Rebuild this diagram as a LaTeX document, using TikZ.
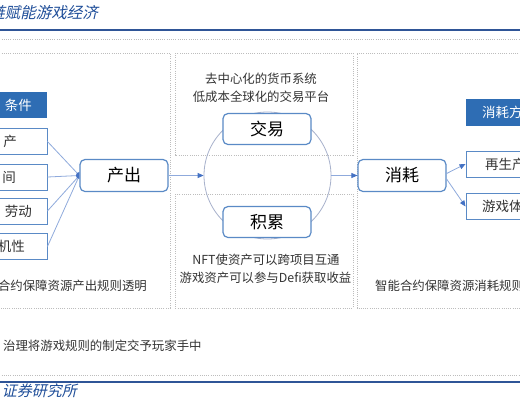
\documentclass[tikz,border=0pt]{standalone}
\usepackage{fontspec}
\setmainfont{Noto Sans CJK SC}
\newfontfamily\cjkit[FakeSlant=0.22]{Noto Sans CJK SC}
\usetikzlibrary{arrows.meta}
\definecolor{dotgray}{HTML}{BDBDBD}
\definecolor{boxblue}{HTML}{5A8AC6}
\definecolor{hdblue}{HTML}{2E6DB4}
\definecolor{lineblue}{HTML}{8FAADC}
\definecolor{arrowblue}{HTML}{4472C4}
\definecolor{circcol}{HTML}{A8B2CC}
\definecolor{ruleblue}{HTML}{2F5597}
\definecolor{titleblue}{HTML}{1F4E99}
\definecolor{txtgray}{HTML}{333333}
\tikzset{
  dotln/.style={draw=dotgray, line width=0.6pt, dash pattern=on 1pt off 1.2pt},
  rulel/.style={draw=ruleblue, line width=2pt},
  sqbox/.style={draw=boxblue, line width=0.9pt, fill=white, inner sep=0pt, minimum width=100pt, minimum height=26pt},
  hdbox/.style={fill=hdblue, inner sep=0pt, minimum height=26pt},
  rbox/.style={draw=boxblue, line width=1.2pt, rounded corners=5pt, fill=white, inner sep=0pt, minimum width=88pt, minimum height=32pt, font=\fontsize{17pt}{20pt}\selectfont, text=black},
  conn/.style={draw=lineblue, line width=0.8pt},
  arr/.style={conn, -{Triangle[length=6pt,width=5pt,color=arrowblue]}},
  smalltxt/.style={font=\fontsize{12.4pt}{14pt}\selectfont, text=txtgray, inner sep=0pt},
  boxtxt/.style={font=\fontsize{13.5pt}{15pt}\selectfont, text=txtgray, inner sep=0pt},
  hdtxt/.style={font=\fontsize{13.5pt}{15pt}\selectfont, text=white, inner sep=0pt},
}
\begin{document}
\begin{tikzpicture}[x=1pt,y=-1pt]
\useasboundingbox (0,0) rectangle (520,400);
\clip (0,0) rectangle (520,400);
\fill[white] (0,0) rectangle (520,400);
% title and rules
\node[anchor=east, inner sep=0pt, text=titleblue, font=\cjkit\fontsize{15.5pt}{17pt}\selectfont] (ttl) at (98,13) {链赋能游戏经济};
\draw[rulel] (-5,30) -- (525,30);
\draw[rulel] (-5,382) -- (525,382);
\node[anchor=east, inner sep=0pt, text=titleblue, font=\cjkit\fontsize{15pt}{17pt}\selectfont] (src) at (77,391) {证券研究所};
% dotted frames
\draw[dotln] (-5,39) -- (525,39);
\draw[dotln] (-5,375) -- (525,375);
\draw[dotln] (-5,53) -- (170,53) -- (170,308) -- (-5,308);
\draw[dotln] (175,53) rectangle (353,155);
\draw[dotln] (175,194) rectangle (353,308);
\draw[dotln] (525,53) -- (357,53) -- (357,308) -- (525,308);
% left panel
\node[hdbox, minimum width=100pt] (lh) at (-3,105) {};
\node[hdtxt, anchor=east] (lht) at (32,105) {条件};
\node[sqbox] (b1) at (-3,141.5) {};
\node[sqbox] (b2) at (-3,177) {};
\node[sqbox] (b3) at (-3,211) {};
\node[sqbox] (b4) at (-3,246.5) {};
\node[boxtxt, anchor=east] (t1) at (17,141.5) {产};
\node[boxtxt, anchor=east] (t2) at (16,177) {间};
\node[boxtxt, anchor=east] (t3) at (32,211) {劳动};
\node[boxtxt, anchor=east] (t4) at (25,246.5) {机性};
\node[rbox] (cc) at (124,175.5) {产出};
\foreach \b in {b1,b2,b3,b4} \draw[conn] (\b.east) -- (cc.west);
\fill[arrowblue] (cc.west) ++(0pt,3.5pt) arc[start angle=90, end angle=270, radius=3.5pt] -- cycle;
\node[smalltxt, anchor=east] (lnote) at (147,286) {合约保障资源产出规则透明};
% middle
\node[circle, draw=circcol, line width=0.8pt, minimum size=127pt, inner sep=0pt] (cir) at (267.5,175.5) {};
\node[rbox, minimum height=31pt] (jy) at (267,129) {交易};
\node[rbox, minimum height=31pt] (jl) at (267,222) {积累};
\node[smalltxt] (m1) at (261,79) {去中心化的货币系统};
\node[smalltxt] (m2) at (261,97) {低成本全球化的交易平台};
\node[smalltxt] (m3) at (266,260) {NFT使资产可以跨项目互通};
\node[smalltxt] (m4) at (265.5,278) {游戏资产可以参与Defi获取收益};
% right
\node[rbox] (xh) at (402,175.5) {消耗};
\draw[arr] (cc.east) -- (cir.west);
\draw[arr] (cir.east) -- (xh.west);
\node[hdbox, minimum width=134pt, minimum height=27pt] (rh) at (533,112.5) {};
\node[hdtxt, anchor=west] (rht) at (482,112.5) {消耗方};
\node[sqbox, minimum width=134pt] (r1) at (533,164) {};
\node[sqbox, minimum width=134pt] (r2) at (533,206.5) {};
\node[boxtxt, anchor=west] (rt1) at (485,164) {再生产};
\node[boxtxt, anchor=west] (rt2) at (482,206.5) {游戏体};
\draw[arr] ([yshift=2pt]xh.east) -- (r1.west);
\draw[arr] ([yshift=-3.5pt]xh.east) -- (r2.west);
\node[smalltxt, anchor=west] (rnote) at (375,286) {智能合约保障资源消耗规则};
% bottom note
\node[smalltxt, anchor=west] (bnote) at (3,346) {治理将游戏规则的制定交予玩家手中};
\end{tikzpicture}
\end{document}
